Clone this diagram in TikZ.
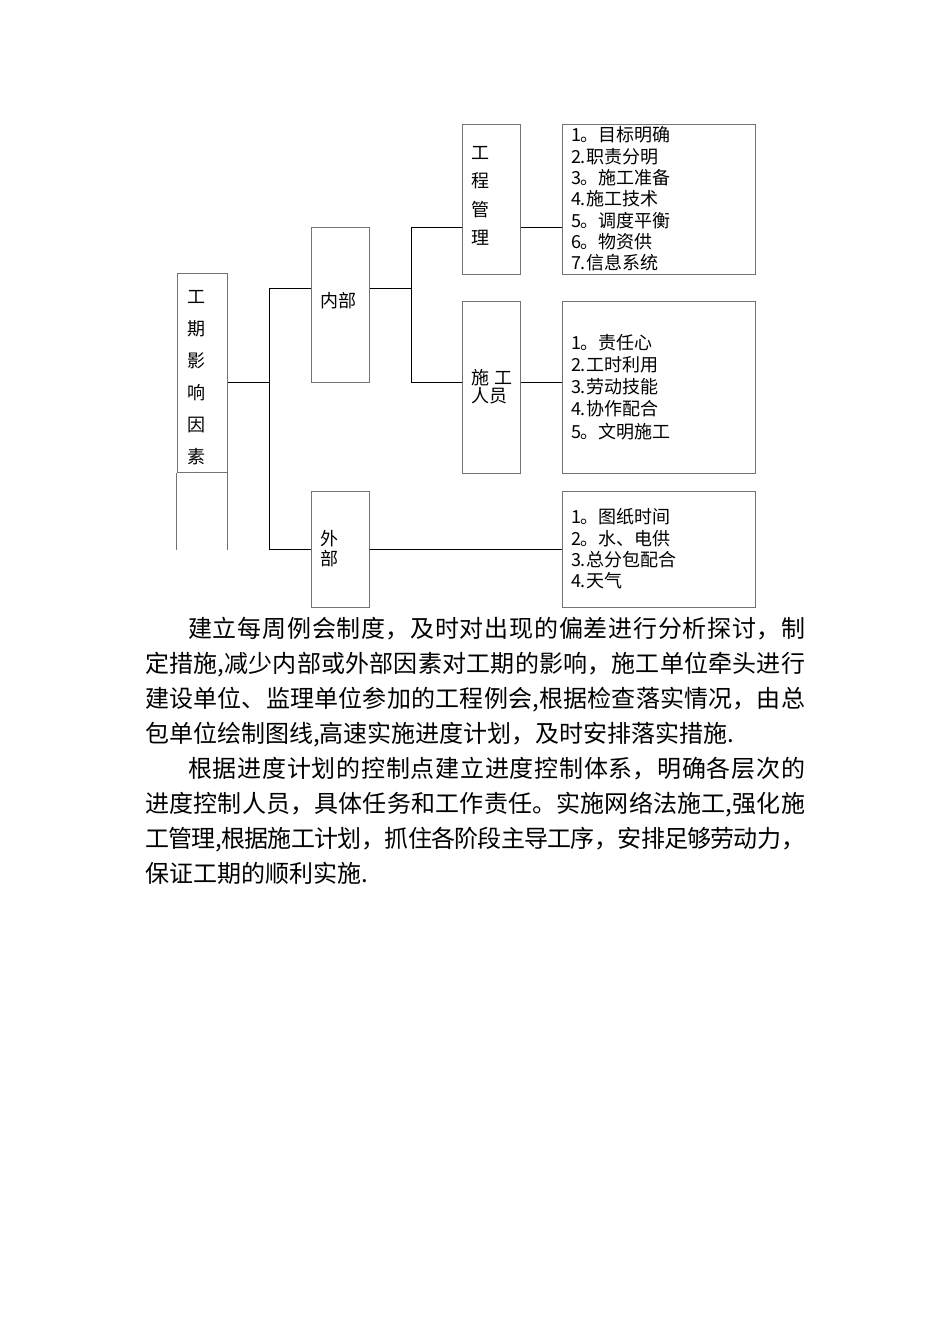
\documentclass[tikz,border=0pt]{standalone}
\usepackage{fontspec}
\setmainfont{Noto Sans CJK SC}
\XeTeXlinebreaklocale "zh"
\XeTeXlinebreakskip=0pt plus 2pt minus 1pt

\begin{document}
\begin{tikzpicture}[x=1pt,y=-1pt]
\tikzset{boite/.style={draw=black!55, line width=1pt, rectangle, inner xsep=9pt, inner ysep=0pt, align=left, text width=40pt},
lien/.style={line width=1pt},
texte/.style={inner sep=0pt, text width=660pt, align=justify, anchor=base west, font=\fontsize{24}{35}\selectfont}}
\useasboundingbox (0,0) rectangle (950,1344);
% boites du schema
\node[boite, inner xsep=10pt, text width=30pt, minimum height=199pt, font=\fontsize{18}{32}\selectfont] (F) at (202,372.5) {\raisebox{0pt}[\dimexpr\height+10pt\relax]{工}\\期\\影\\响\\因\\素};
\node[boite, minimum height=155pt, font=\fontsize{18}{20}\selectfont] (N1) at (340,304.5) {\raisebox{0pt}[\height][\dimexpr\depth+8pt\relax]{内部}};
\node[boite, minimum height=116pt, font=\fontsize{18}{20}\selectfont] (N2) at (340,549) {外\\部};
\node[boite, minimum height=150pt, font=\fontsize{18}{28.4}\selectfont] (M1) at (491,199) {工\\程\\管\\\raisebox{0pt}[\height][\dimexpr\depth+6pt\relax]{理}};
\node[boite, minimum height=172pt, font=\fontsize{18}{18}\selectfont] (M2) at (491,387) {\mbox{施\hspace{6pt}工}\\人员};
\node[boite, text width=175pt, minimum height=150pt, font=\fontsize{18}{21.3}\selectfont] (L1) at (658.5,199) {1。目标明确\\2.职责分明\\3。施工准备\\4.施工技术\\5。调度平衡\\6。物资供\\7.信息系统};
\node[boite, text width=175pt, minimum height=172pt, font=\fontsize{18}{22.2}\selectfont] (L2) at (658.5,387) {1。责任心\\2.工时利用\\3.劳动技能\\4.协作配合\\5。文明施工};
\node[boite, text width=175pt, minimum height=116pt, font=\fontsize{18}{21.3}\selectfont] (L3) at (658.5,549) {1。图纸时间\\2。水、电供\\3.总分包配合\\4.天气};
\draw[draw=black!55, line width=1pt] (F.south west) -- ++(0,77);
\draw[draw=black!55, line width=1pt] (F.south east) -- ++(0,77);
% liaisons
\coordinate (J1) at (269,382);
\coordinate (J1a) at (269,288);
\coordinate (J1b) at (269,549);
\coordinate (J2) at (411,288);
\coordinate (J2a) at (411,227);
\coordinate (J2b) at (411,382);
\draw[lien] (F.east |- J1) -- (J1);
\draw[lien] (N1.west |- J1a) -- (J1a) -- (J1b) -- (N2.west |- J1b);
\draw[lien] (N1.east |- J2) -- (J2);
\draw[lien] (M1.west |- J2a) -- (J2a) -- (J2b) -- (M2.west |- J2b);
\draw[lien] (M1.east |- J2a) -- (L1.west |- J2a);
\draw[lien] (M2.east |- J2b) -- (L2.west |- J2b);
\draw[lien] (N2.east) -- (L3.west);
% texte
\node[texte] (P1) at (145,637) {\hspace*{43pt}建立每周例会制度，及时对出现的偏差进行分析探讨，制\linebreak
定措施,减少内部或外部因素对工期的影响，施工单位牵头进行\linebreak
建设单位、监理单位参加的工程例会,根据检查落实情况，由总\linebreak
包单位绘制图线,高速实施进度计划，及时安排落实措施.};
\node[texte] (P2) at (145,777) {\hspace*{43pt}根据进度计划的控制点建立进度控制体系，明确各层次的\linebreak
进度控制人员，具体任务和工作责任。实施网络法施工,强化施\linebreak
工管理,根据施工计划，抓住各阶段主导工序，安排足够劳动力，\linebreak
保证工期的顺利实施.};
\end{tikzpicture}
\end{document}
